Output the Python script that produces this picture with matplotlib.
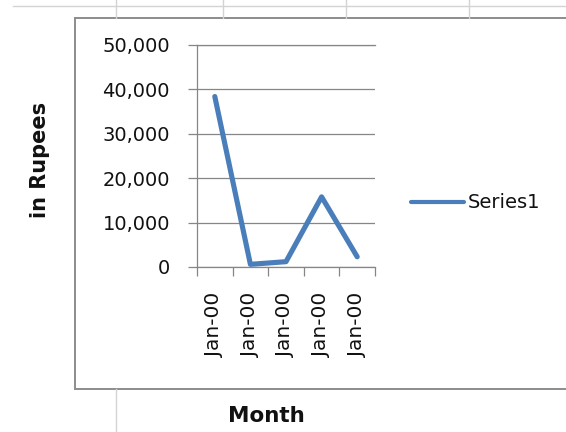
import matplotlib
matplotlib.use("Agg")
import matplotlib.pyplot as plt
from matplotlib.patches import Rectangle
from matplotlib.lines import Line2D
from matplotlib.ticker import FuncFormatter, FixedLocator

# Data
months = ["Jan-00", "Jan-00", "Jan-00", "Jan-00", "Jan-00"]
series1 = [38400, 600, 1200, 15800, 2300]
y_ticks = [0, 10000, 20000, 30000, 40000, 50000]
series_name = "Series1"
y_title = "in Rupees"
x_title = "Month"

W, H = 566, 432
plt.rcParams["font.family"] = ["DejaVu Sans"]
TXT = "#111111"
AX_GRAY = "#868686"
LINE_BLUE = "#4A7EBB"

fig = plt.figure(figsize=(W / 100, H / 100), dpi=100)
fig.patch.set_facecolor("white")

def fx(px):
    return px / W

def fy(py):
    return 1 - py / H

# Worksheet cell lines behind the chart
sheet = "#d3d3d3"
fig.add_artist(Line2D([fx(13), fx(W)], [fy(6), fy(6)], color=sheet, lw=1.0))
for xv in (115.5, 223, 346, 469):
    fig.add_artist(Line2D([fx(xv), fx(xv)], [fy(0), fy(18)], color=sheet, lw=1.0))
fig.add_artist(Line2D([fx(115.5), fx(115.5)], [fy(389), fy(H)], color=sheet, lw=1.0))

# Chart area frame
fig.add_artist(Rectangle((fx(75), fy(389)), fx(W + 10) - fx(75), fy(18) - fy(389),
                         facecolor="white", edgecolor="#8c8c8c", lw=1.4, zorder=0))

# Plot area
ax = fig.add_axes([fx(197), fy(267), fx(375) - fx(197), fy(45) - fy(267)])
ax.set_facecolor("none")
x = list(range(len(series1)))
ax.plot(x, series1, color=LINE_BLUE, lw=3.7, solid_capstyle="round",
        solid_joinstyle="round", label=series_name, zorder=3)

ax.set_xlim(-0.5, len(series1) - 0.5)
ax.set_ylim(y_ticks[0], y_ticks[-1])
ax.set_yticks(y_ticks)
ax.yaxis.set_major_formatter(FuncFormatter(lambda v, p: f"{int(v):,}"))
ax.grid(axis="y", color=AX_GRAY, lw=0.9, zorder=1)
ax.set_axisbelow(True)

ax.set_xticks(x)
ax.set_xticklabels(months, rotation=90)
ax.xaxis.set_minor_locator(FixedLocator([i - 0.5 for i in range(len(series1) + 1)]))
ax.tick_params(axis="x", which="major", length=0, pad=18.5, labelsize=14.5, labelcolor=TXT)
ax.tick_params(axis="x", which="minor", length=6.5, width=0.9, color=AX_GRAY, direction="out")
ax.tick_params(axis="y", which="major", length=6.5, width=0.9, color=AX_GRAY,
               direction="out", pad=13, labelsize=14, labelcolor=TXT)

ax.spines["right"].set_visible(False)
for side in ("left", "bottom", "top"):
    ax.spines[side].set_color(AX_GRAY)
    ax.spines[side].set_linewidth(0.9)

# Legend to the right of the plot
leg = ax.legend(loc="center left", bbox_to_anchor=(fx(411), fy(203)),
                bbox_transform=fig.transFigure, frameon=False, borderaxespad=0,
                borderpad=0, handlelength=2.75, handletextpad=0.15,
                prop={"size": 14})
for line in leg.get_lines():
    line.set_linewidth(3.0)
for t in leg.get_texts():
    t.set_color(TXT)

# Axis titles
fig.text(fx(40), fy(160), y_title, rotation=90, ha="center", va="center",
         fontsize=15, fontweight="bold", color=TXT)
fig.text(fx(266), fy(416), x_title, ha="center", va="center",
         fontsize=15.5, fontweight="bold", color=TXT)

fig.savefig("out.png", dpi=100, facecolor="white")
